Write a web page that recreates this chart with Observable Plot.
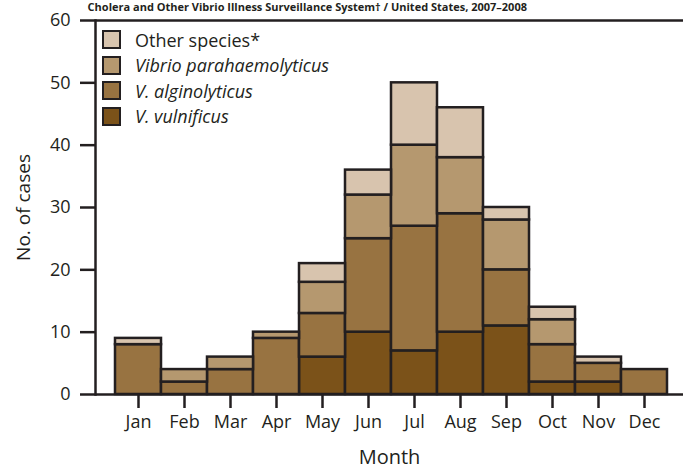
<!DOCTYPE html>
<html>
<head>
<meta charset="utf-8">
<script src="https://cdn.jsdelivr.net/npm/d3@7"></script>
<script src="https://cdn.jsdelivr.net/npm/@observablehq/plot@0.6"></script>
<style>
  html, body { margin: 0; padding: 0; background: #fff; }
  #wrap { position: relative; width: 683px; height: 468px; overflow: hidden; font-family: "Open Sans", sans-serif; color: #231f20; }
  #title { position: absolute; right: 156px; top: 0px; white-space: nowrap; font-size: 11px; line-height: 13px; font-weight: bold; }
  #legend { position: absolute; left: 102px; top: 27px; font-size: 18px; }
  .row { display: flex; align-items: center; height: 25.5px; }
  .sw { width: 15px; height: 15px; border: 2.5px solid #231f20; margin-right: 14px; box-sizing: content-box; }
  .it { font-style: italic; }
  #chart { position: absolute; left: 0; top: 0; }
</style>
</head>
<body>
<div id="wrap">
  <div id="chart"></div>
  <div id="title">Cholera and Other Vibrio Illness Surveillance System† / United States, 2007–2008</div>
  <div id="legend"></div>
</div>
<script>
const months = ["Jan","Feb","Mar","Apr","May","Jun","Jul","Aug","Sep","Oct","Nov","Dec"];
const seriesNames = ["V. vulnificus","V. alginolyticus","Vibrio parahaemolyticus","Other species*"];
const seriesColors = ["#7b5219","#987341","#b5986f","#d8c4ae"];
const vulnificus       = [0,0,0,0,6,10,7,10,11,2,2,0];
const alginolyticus    = [8,2,4,9,7,15,20,19,9,6,3,4];
const parahaemolyticus = [0,2,2,1,5,7,13,9,8,4,0,0];
const otherSpecies     = [1,0,0,0,3,4,10,8,2,2,1,0];
const yTicks = [0,10,20,30,40,50,60];

const seriesValues = [vulnificus, alginolyticus, parahaemolyticus, otherSpecies];
const data = [];
seriesValues.forEach((vals, s) => {
  vals.forEach((v, i) => {
    if (v > 0) data.push({month: months[i], series: seriesNames[s], value: v});
  });
});

const ink = "#231f20";
const chart = Plot.plot({
  width: 683,
  height: 468,
  marginTop: 20,
  marginBottom: 74,
  marginLeft: 95,
  marginRight: 0,
  style: {fontFamily: "'Open Sans', sans-serif", fontSize: "18px", color: ink, background: "white", overflow: "visible"},
  x: {domain: months, range: [109.5, 671.5], padding: 0, label: null},
  y: {domain: [0, 60], label: null},
  color: {domain: seriesNames, range: seriesColors},
  marks: [
    Plot.barY(data, {x: "month", y: "value", fill: "series", stroke: ink, strokeWidth: 2.5, inset: 0}),
    Plot.ruleY([0, 60], {stroke: ink, strokeWidth: 2.5}),
    Plot.frame({anchor: "left", stroke: ink, strokeWidth: 2.5}),
    Plot.axisY(yTicks, {tickSize: 15, tickPadding: 10, strokeWidth: 2.5, stroke: ink, label: null}),
    Plot.axisX({tickSize: 14, tickPadding: 7, strokeWidth: 2.5, stroke: ink, label: null}),
    Plot.text(["Month"], {frameAnchor: "bottom", dy: 69, fill: ink, fontSize: 20}),
    Plot.text(["No. of cases"], {frameAnchor: "left", textAnchor: "middle", lineAnchor: "middle", dx: -72, rotate: -90, fill: ink, fontSize: 19})
  ]
});
document.getElementById("chart").appendChild(chart);

const legend = document.getElementById("legend");
const legendOrder = [3, 2, 1, 0];
legendOrder.forEach(s => {
  const row = document.createElement("div");
  row.className = "row";
  const sw = document.createElement("div");
  sw.className = "sw";
  sw.style.background = seriesColors[s];
  const t = document.createElement("span");
  t.textContent = seriesNames[s];
  if (s !== 3) t.className = "it";
  row.appendChild(sw);
  row.appendChild(t);
  legend.appendChild(row);
});
</script>
</body>
</html>
